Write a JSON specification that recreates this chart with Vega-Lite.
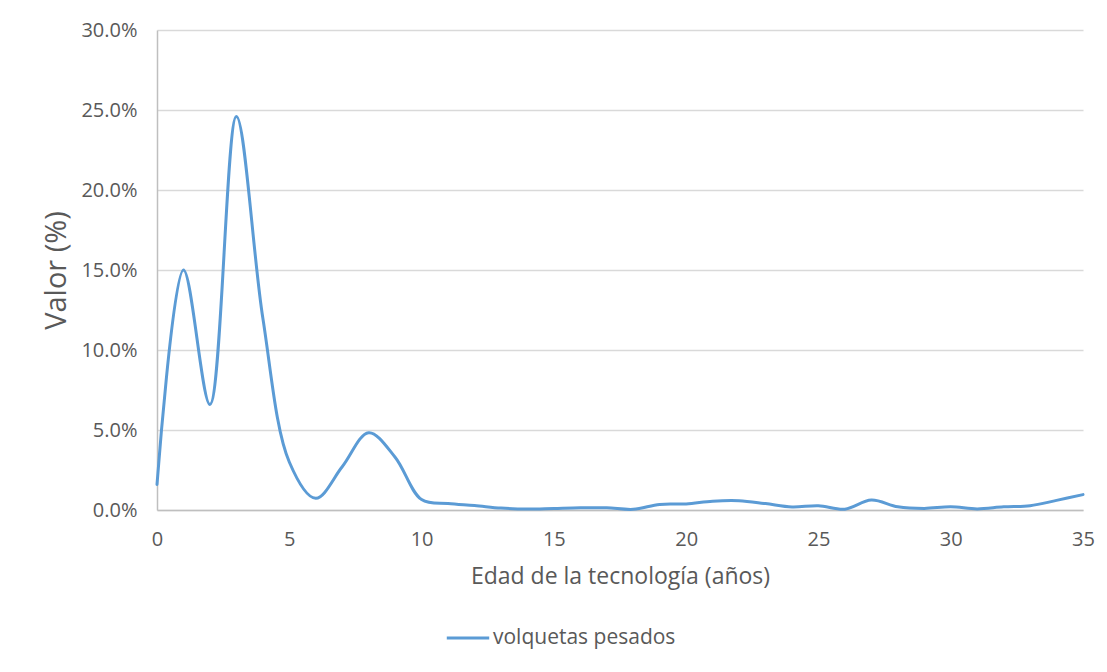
{
  "$schema": "https://vega.github.io/schema/vega-lite/v6.json",
  "width": 926,
  "height": 480,
  "autosize": {"type": "none"},
  "padding": {"left": 157, "top": 30, "right": 24, "bottom": 162},
  "background": "#ffffff",
  "config": {
    "view": {"stroke": null},
    "font": "Open Sans"
  },
  "data": {
    "values": [
      {"edad": 0, "valor": 0.016, "serie": "volquetas pesados"},
      {"edad": 1, "valor": 0.150, "serie": "volquetas pesados"},
      {"edad": 2, "valor": 0.066, "serie": "volquetas pesados"},
      {"edad": 3, "valor": 0.246, "serie": "volquetas pesados"},
      {"edad": 4, "valor": 0.120, "serie": "volquetas pesados"},
      {"edad": 5, "valor": 0.030, "serie": "volquetas pesados"},
      {"edad": 6, "valor": 0.0073, "serie": "volquetas pesados"},
      {"edad": 7, "valor": 0.027, "serie": "volquetas pesados"},
      {"edad": 8, "valor": 0.0483, "serie": "volquetas pesados"},
      {"edad": 9, "valor": 0.033, "serie": "volquetas pesados"},
      {"edad": 10, "valor": 0.0065, "serie": "volquetas pesados"},
      {"edad": 11, "valor": 0.0040, "serie": "volquetas pesados"},
      {"edad": 12, "valor": 0.0028, "serie": "volquetas pesados"},
      {"edad": 13, "valor": 0.0012, "serie": "volquetas pesados"},
      {"edad": 14, "valor": 0.0006, "serie": "volquetas pesados"},
      {"edad": 15, "valor": 0.0010, "serie": "volquetas pesados"},
      {"edad": 16, "valor": 0.0014, "serie": "volquetas pesados"},
      {"edad": 17, "valor": 0.0014, "serie": "volquetas pesados"},
      {"edad": 18, "valor": 0.0004, "serie": "volquetas pesados"},
      {"edad": 19, "valor": 0.0035, "serie": "volquetas pesados"},
      {"edad": 20, "valor": 0.0038, "serie": "volquetas pesados"},
      {"edad": 21, "valor": 0.0055, "serie": "volquetas pesados"},
      {"edad": 22, "valor": 0.0058, "serie": "volquetas pesados"},
      {"edad": 23, "valor": 0.0040, "serie": "volquetas pesados"},
      {"edad": 24, "valor": 0.0019, "serie": "volquetas pesados"},
      {"edad": 25, "valor": 0.0027, "serie": "volquetas pesados"},
      {"edad": 26, "valor": 0.0005, "serie": "volquetas pesados"},
      {"edad": 27, "valor": 0.0062, "serie": "volquetas pesados"},
      {"edad": 28, "valor": 0.0020, "serie": "volquetas pesados"},
      {"edad": 29, "valor": 0.0010, "serie": "volquetas pesados"},
      {"edad": 30, "valor": 0.0020, "serie": "volquetas pesados"},
      {"edad": 31, "valor": 0.0007, "serie": "volquetas pesados"},
      {"edad": 32, "valor": 0.0020, "serie": "volquetas pesados"},
      {"edad": 33, "valor": 0.0027, "serie": "volquetas pesados"},
      {"edad": 34, "valor": 0.0060, "serie": "volquetas pesados"},
      {"edad": 35, "valor": 0.0096, "serie": "volquetas pesados"}
    ]
  },
  "mark": {"type": "line", "interpolate": "catmull-rom", "strokeWidth": 3, "strokeCap": "round"},
  "encoding": {
    "x": {
      "field": "edad",
      "type": "quantitative",
      "scale": {"domain": [0, 35], "nice": false, "zero": false},
      "axis": {
        "title": "Edad de la tecnología (años)",
        "values": [0, 5, 10, 15, 20, 25, 30, 35],
        "grid": false,
        "ticks": false,
        "labelFlush": false,
        "domainColor": "#bfbfbf",
        "domainWidth": 1.5,
        "labelFontSize": 20,
        "labelColor": "#595959",
        "labelPadding": 19,
        "titleFontSize": 23,
        "titleFontWeight": "normal",
        "titleColor": "#595959",
        "titlePadding": 16
      }
    },
    "y": {
      "field": "valor",
      "type": "quantitative",
      "scale": {"domain": [0, 0.30], "nice": false},
      "axis": {
        "title": "Valor (%)",
        "format": ".1%",
        "values": [0, 0.05, 0.10, 0.15, 0.20, 0.25, 0.30],
        "grid": true,
        "gridColor": "#d9d9d9",
        "gridWidth": 1.5,
        "ticks": false,
        "domainColor": "#bfbfbf",
        "domainWidth": 1.5,
        "labelFontSize": 20,
        "labelColor": "#595959",
        "labelPadding": 20,
        "titleFontSize": 29,
        "titleFontWeight": "normal",
        "titleColor": "#595959",
        "titlePadding": 9
      }
    },
    "color": {
      "field": "serie",
      "type": "nominal",
      "scale": {"range": ["#5b9bd5"]},
      "legend": {
        "title": null,
        "orient": "none",
        "legendX": 288,
        "legendY": 585,
        "symbolType": "stroke",
        "symbolSize": 1800,
        "symbolStrokeWidth": 3,
        "labelFontSize": 21,
        "labelLimit": 400,
        "labelColor": "#595959",
        "labelOffset": 2
      }
    }
  }
}
